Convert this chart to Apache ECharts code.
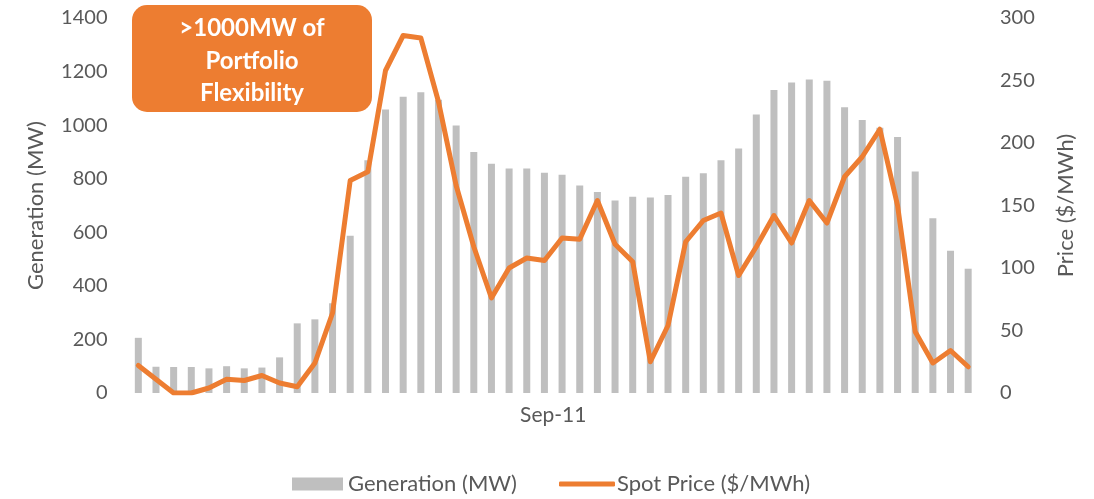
<!DOCTYPE html>
<html>
<head>
<meta charset="utf-8">
<script src="https://cdn.jsdelivr.net/npm/echarts@6/dist/echarts.min.js"></script>
<style>html,body{margin:0;padding:0;background:#fff}#c{width:1094px;height:499px}</style>
</head>
<body>
<div id="c"></div>
<script>
const categories = ["00:00","00:30","01:00","01:30","02:00","02:30","03:00","03:30","04:00","04:30","05:00","05:30","06:00","06:30","07:00","07:30","08:00","08:30","09:00","09:30","10:00","10:30","11:00","11:30","12:00","12:30","13:00","13:30","14:00","14:30","15:00","15:30","16:00","16:30","17:00","17:30","18:00","18:30","19:00","19:30","20:00","20:30","21:00","21:30","22:00","22:30","23:00","23:30"];
const dateLabel = ["Sep-11"];
const generation = [206,98,97,97,92,100,92,95,133,260,275,335,587,869,1058,1106,1123,1095,999,900,856,838,838,822,815,775,750,719,733,730,739,807,820,869,913,1040,1131,1159,1170,1166,1067,1019,990,956,827,652,531,464];
const spotPrice = [22,11,0,0,4,11,10,14,8,5,24,64,170,177,258,286,284,233,166,117,76,100,108,106,124,123,154,119,105,25,54,121,138,144,94,117,142,120,154,136,173,189,211,150,49,24,34,21];
const genTicks = {min:0,max:1400,interval:200};
const priceTicks = {min:0,max:300,interval:50};

const FONT = 'Lato, "Open Sans", sans-serif';
const GREY = '#595959';
const chart = echarts.init(document.getElementById('c'));
chart.setOption({
  animation:false,
  textStyle:{fontFamily:FONT},
  grid:{left:129.5,right:117,top:18,bottom:106,containLabel:false},
  legend:[
    {left:292, top:473, padding:0, itemWidth:51, itemHeight:13, icon:'rect',
     textStyle:{fontSize:22,color:GREY,fontFamily:FONT},
     data:['Generation (MW)']},
    {left:559, top:473, padding:0, itemWidth:56, itemHeight:5, icon:'roundRect',
     textStyle:{fontSize:22,color:GREY,fontFamily:FONT,padding:[0,0,0,-3]},
     data:['Spot Price ($/MWh)']}
  ],
  xAxis:[
    {type:'category',data:categories,boundaryGap:true,axisLine:{show:false},axisTick:{show:false},axisLabel:{show:false},splitLine:{show:false}},
    {type:'category',data:dateLabel,position:'bottom',boundaryGap:true,axisLine:{show:false},axisTick:{show:false},
     axisLabel:{fontSize:21,color:GREY,margin:12,fontFamily:FONT},splitLine:{show:false}}
  ],
  yAxis:[
    {type:'value',min:genTicks.min,max:genTicks.max,interval:genTicks.interval,position:'left',
     name:'Generation (MW)',nameLocation:'middle',nameRotate:90,nameGap:83,
     nameTextStyle:{fontSize:22,color:GREY,fontFamily:FONT},
     axisLine:{show:false},axisTick:{show:false},splitLine:{show:false},
     axisLabel:{fontSize:20,color:GREY,margin:22,fontFamily:FONT,formatter:v=>String(v)}},
    {type:'value',min:priceTicks.min,max:priceTicks.max,interval:priceTicks.interval,position:'right',
     name:'Price ($/MWh)',nameLocation:'middle',nameRotate:90,nameGap:78,
     nameTextStyle:{fontSize:22,color:GREY,fontFamily:FONT},
     axisLine:{show:false},axisTick:{show:false},splitLine:{show:false},
     axisLabel:{fontSize:20,color:GREY,margin:23,fontFamily:FONT,formatter:v=>String(v)}}
  ],
  series:[
    {name:'Generation (MW)',type:'bar',xAxisIndex:0,yAxisIndex:0,data:generation,barWidth:7,itemStyle:{color:'#BFBFBF'}},
    {name:'Spot Price ($/MWh)',type:'line',xAxisIndex:0,yAxisIndex:1,data:spotPrice,symbol:'none',
     lineStyle:{color:'#ED7D31',width:5,join:'round',cap:'round'},itemStyle:{color:'#ED7D31'}}
  ],
  graphic:[
    {type:'group',left:132,top:5,children:[
      {type:'rect',shape:{x:0,y:0,width:240,height:107,r:15},style:{fill:'#ED7D31'}},
      {type:'text',x:120,y:56,style:{text:'>1000MW of\nPortfolio\nFlexibility',fill:'#fff',font:'bold 24px '+FONT,
        align:'center',verticalAlign:'middle',lineHeight:32.5}}
    ]}
  ]
});
</script>
</body>
</html>
